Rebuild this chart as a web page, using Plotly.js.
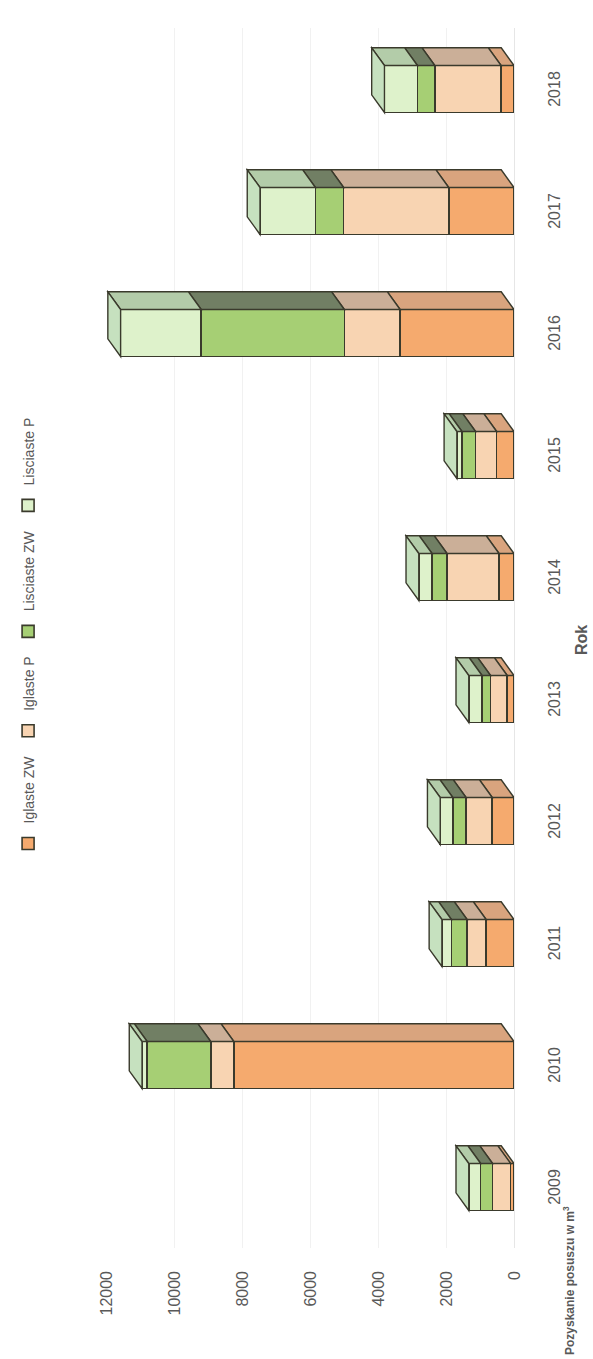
<!DOCTYPE html>
<html>
<head>
<meta charset="utf-8">
<script src="https://cdn.plot.ly/plotly-3.0.1.min.js"></script>
<style>
  html, body { margin: 0; padding: 0; background: #ffffff; overflow: hidden; }
  #wrap { position: absolute; left: 0; top: 0; width: 1359px; height: 593px;
          transform-origin: 0 0; transform: translate(0px, 1359px) rotate(-90deg); }
</style>
</head>
<body>
<div id="wrap"></div>
<script>
// ---- data ----
const years = [2009, 2010, 2011, 2012, 2013, 2014, 2015, 2016, 2017, 2018];
const iglasteZW   = [100, 8240, 820, 640, 200, 440, 510, 3350, 1920, 380];
const iglasteP    = [530, 680, 560, 770, 490, 1530, 620, 1640, 3090, 1950];
const lisciasteZW = [350, 1870, 460, 390, 250, 440, 400, 4210, 830, 510];
const lisciasteP  = [350, 150, 280, 370, 390, 390, 150, 2370, 1630, 970];
const seriesNames = ['Iglaste ZW', 'Iglaste P', 'Lisciaste ZW', 'Lisciaste P'];
const valueTicks = [0, 2000, 4000, 6000, 8000, 10000, 12000];

// ---- styles ----
const frontColors = ['#F5AA6E', '#F8D4B2', '#A6CF74', '#DEF2CB'];
const sideColors  = ['#D9A47E', '#CBAF98', '#717F64', '#B3CCA9'];
const topColor = '#C6E1BF';
const edge = '#3a3a2c';
const barFrac = 0.385;           // bar width in category units
const depthX = 0.145;            // depth offset (category units)
const depthY = 376;              // depth offset (value units)

const allSeries = [iglasteZW, iglasteP, lisciasteZW, lisciasteP];

const traces = allSeries.map((vals, i) => ({
  type: 'bar',
  name: seriesNames[i],
  x: years,
  y: vals,
  width: barFrac,
  marker: { color: frontColors[i], line: { color: edge, width: 1.6 } },
  hoverinfo: 'x+y+name'
}));

// 3D side and top faces computed from the data
const shapes = [];
const hw = barFrac / 2;
years.forEach((yr, k) => {
  let base = 0;
  allSeries.forEach((vals, i) => {
    const top = base + vals[k];
    const xr = yr + hw;
    shapes.push({
      type: 'path', xref: 'x', yref: 'y', layer: 'above',
      path: `M ${xr},${base} L ${xr + depthX},${base + depthY} L ${xr + depthX},${top + depthY} L ${xr},${top} Z`,
      fillcolor: sideColors[i], line: { color: edge, width: 1.4 }
    });
    base = top;
  });
  const xl = yr - hw, xr = yr + hw;
  shapes.push({
    type: 'path', xref: 'x', yref: 'y', layer: 'above',
    path: `M ${xl},${base} L ${xl + depthX},${base + depthY} L ${xr + depthX},${base + depthY} L ${xr},${base} Z`,
    fillcolor: topColor, line: { color: edge, width: 1.4 }
  });
});

const layout = {
  width: 1359,
  height: 593,
  margin: { l: 111, r: 28, t: 106, b: 79 },
  paper_bgcolor: '#ffffff',
  plot_bgcolor: '#ffffff',
  barmode: 'stack',
  showlegend: true,
  legend: {
    orientation: 'h', x: 0.5, xanchor: 'center', y: 1.19, yanchor: 'middle',
    font: { family: 'Liberation Sans, Arial, sans-serif', size: 14, color: '#595959' },
    traceorder: 'normal'
  },
  font: { family: 'Liberation Sans, Arial, sans-serif', color: '#595959' },
  xaxis: {
    type: 'linear',
    range: [2008.5, 2018.5],
    tickvals: years,
    ticktext: years.map(String),
    ticks: '',
    showgrid: false,
    zeroline: false,
    showline: true,
    linecolor: '#e6e6e6',
    ticklabelstandoff: 26,
    tickfont: { size: 16, color: '#595959' }
  },
  yaxis: {
    range: [0, 12000],
    tickvals: valueTicks,
    ticktext: valueTicks.map(String),
    ticks: '',
    showgrid: true,
    gridcolor: '#f1f1f1',
    zeroline: false,
    showline: false,
    ticklabelstandoff: 22,
    tickfont: { size: 16, color: '#595959' }
  },
  shapes: shapes,
  annotations: [
    { text: '<b>Rok</b>', xref: 'paper', yref: 'paper', x: 0.498, y: -0.165,
      xanchor: 'center', yanchor: 'middle',
      showarrow: false, font: { size: 16, color: '#595959' } },
    { text: '<b>Pozyskanie posuszu w m<sup>3</sup></b>', xref: 'paper', yref: 'paper',
      x: -0.027, y: -0.136, xanchor: 'center', yanchor: 'middle', showarrow: false, textangle: 0,
      font: { size: 12, color: '#595959' } }
  ]
};

Plotly.newPlot('wrap', traces, layout, { displayModeBar: false, staticPlot: true });
</script>
</body>
</html>
